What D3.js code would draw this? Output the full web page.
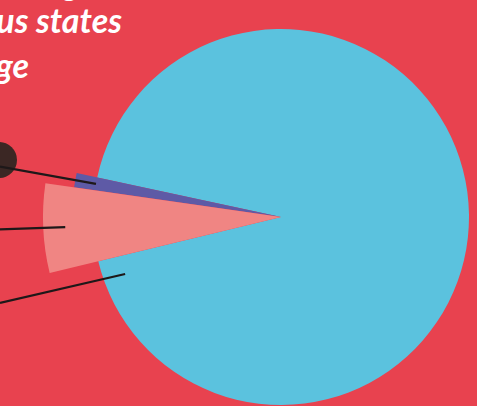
<!DOCTYPE html>
<html lang="en">
	<head>
		<meta charset="utf-8">
		<title>Pie</title>
		<script src="https://d3js.org/d3.v7.min.js" charset="utf-8"></script>
		<style type="text/css">
		html, body {
		margin: 0;
		padding: 0;
		background: #e8424f;
		overflow: hidden;
		}
		.title {
		font-family: Lato, "Open Sans", sans-serif;
		font-size: 34px;
		font-weight: bold;
		font-style: italic;
		fill: #fff;
		}
		</style>
	</head>

	<body>
		<div id="chart"></div>

		<script>
			var width = 477;
			var height = 406;

			// slices, clockwise from the pink one
			var labels = ["pink", "purple", "blue"];
			var values = [6.05, 1.1, 92.85];
			var titleLines = ["showing", "various states", "average"];

			var colors = {pink: "#f08583", purple: "#5e5aa6", blue: "#5bc2de"};
			var radius = {pink: 238, purple: 209, blue: 188};

			var cx = 281, cy = 217;

			var svg = d3.select("#chart")
									.append("svg")
									.attr("width", width)
									.attr("height", height);

			svg.append("rect")
				.attr("width", width)
				.attr("height", height)
				.attr("fill", "#e8424f");

//title
			var titleX = [80, 122, 29];
			var titleY = [-5, 33, 78];
			svg.selectAll("text.title")
				.data(titleLines)
				.enter().append("text")
				.attr("class", "title")
				.attr("text-anchor", "end")
				.attr("x", function(d, i) { return titleX[i]; })
				.attr("y", function(d, i) { return titleY[i]; })
				.text(function(d) { return d; });

//pie
			var start = 256.4 * Math.PI / 180;
			var pie = d3.pie()
				.sort(null)
				.startAngle(start)
				.endAngle(start + 2 * Math.PI);

			var slices = pie(values);
			slices.forEach(function(s, i) { s.label = labels[i]; });

			var g = svg.append("g")
				.attr("transform", "translate(" + cx + "," + cy + ")");

			// draw blue first so the others sit on top
			var drawOrder = [2, 1, 0];
			g.selectAll("path")
				.data(drawOrder.map(function(i) { return slices[i]; }))
				.enter().append("path")
				.attr("fill", function(d) { return colors[d.label]; })
				.attr("d", function(d) {
					return d3.arc().innerRadius(0).outerRadius(radius[d.label])(d);
				});

//leader lines
			var leaderY = {purple: 166.6, pink: 229.3, blue: 303};
			var leaderR = {purple: 188, pink: 216, blue: 166};
			function leaderAngle(s) {
				if (s.label == "blue") return s.endAngle - 6.5 * Math.PI / 180;
				return (s.startAngle + s.endAngle) / 2;
			}

			svg.append("circle")
				.attr("cx", -1)
				.attr("cy", 160)
				.attr("r", 18)
				.attr("fill", "#3b2724");

			svg.selectAll("line.leader")
				.data(slices)
				.enter().append("line")
				.attr("class", "leader")
				.attr("x1", 0)
				.attr("y1", function(d) { return leaderY[d.label]; })
				.attr("x2", function(d) { return cx + leaderR[d.label] * Math.sin(leaderAngle(d)); })
				.attr("y2", function(d) { return cy - leaderR[d.label] * Math.cos(leaderAngle(d)); })
				.attr("stroke", "#1e1819")
				.attr("stroke-width", 2.2);
		</script>
	</body>
</html>
